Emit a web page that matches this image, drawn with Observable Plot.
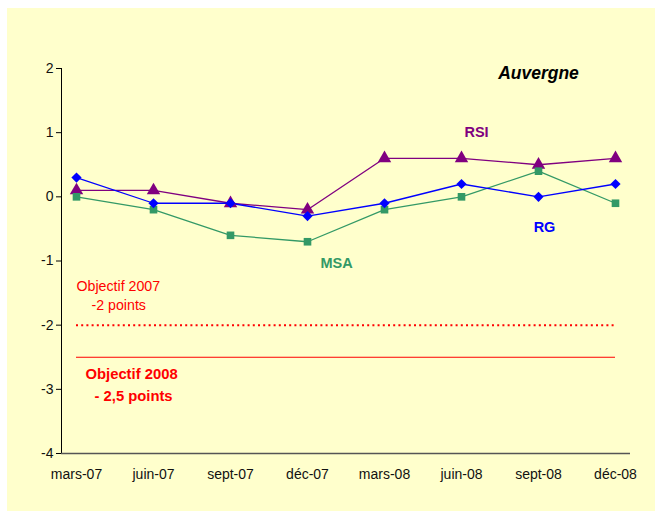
<!DOCTYPE html>
<html>
<head>
<meta charset="utf-8">
<script src="https://cdn.jsdelivr.net/npm/d3@7"></script>
<script src="https://cdn.jsdelivr.net/npm/@observablehq/plot@0.6"></script>
<style>
  html, body { margin: 0; padding: 0; background: #ffffff; }
  #chart { position: absolute; left: 7px; top: 8px; }
  #chart svg { background: #FFFFCC; display: block; }
</style>
</head>
<body>
<div id="chart"></div>
<script>
const periods = ["mars-07", "juin-07", "sept-07", "déc-07", "mars-08", "juin-08", "sept-08", "déc-08"];
const rg  = [0.3, -0.1, -0.1, -0.3, -0.1, 0.2, 0.0, 0.2];
const rsi = [0.1, 0.1, -0.1, -0.2, 0.6, 0.6, 0.5, 0.6];
const msa = [0.0, -0.2, -0.6, -0.7, -0.2, 0.0, 0.4, -0.1];
const yTicks = [2, 1, 0, -1, -2, -3, -4];
const objectif2007 = -2;
const objectif2008 = -2.5;

const colors = {RG: "#0000FF", RSI: "#800080", MSA: "#339966"};
const symbols = {RG: "diamond2", RSI: "triangle", MSA: "square"};
const series = [["RSI", rsi], ["MSA", msa], ["RG", rg]];
const rows = series.flatMap(([name, vals]) => vals.map((v, i) => ({serie: name, periode: periods[i], valeur: v})));

const font = "'Liberation Sans', Arial, sans-serif";
const lines = series.map(([name]) =>
  Plot.line(rows.filter(d => d.serie === name), {x: "periode", y: "valeur", stroke: colors[name], strokeWidth: 1.3})
);
const sizes = {RG: 4.6, RSI: 5, MSA: 4.3};
const dots = series.map(([name]) =>
  Plot.dot(rows.filter(d => d.serie === name), {x: "periode", y: "valeur", fill: colors[name], symbol: symbols[name], r: sizes[name]})
);
const first = () => periods[0];
const last = () => periods[periods.length - 1];

const chart = Plot.plot({
  width: 648,
  height: 503,
  marginLeft: 54,
  marginRight: 25,
  marginTop: 60,
  marginBottom: 58,
  style: {fontFamily: font, fontSize: "14px", color: "#111", background: "#FFFFCC", overflow: "visible"},
  x: {type: "point", domain: periods, padding: 0, insetLeft: 13, insetRight: 13, label: null},
  y: {domain: [-4, 2], ticks: yTicks, label: null},
  marks: [
    Plot.axisY({ticks: yTicks, tickSize: 5, tickPadding: 3, tickFormat: d => String(d), fontSize: 14, stroke: "#000"}),
    Plot.axisX({tickSize: 0, tickPadding: 16, fontSize: 14}),
    Plot.frame({anchor: "left", stroke: "#000"}),
    Plot.ruleY([-4], {stroke: "#555", strokeWidth: 1.5}),
    Plot.ruleY([objectif2007], {x1: first, x2: last, stroke: "#FF0000", strokeWidth: 2, strokeDasharray: "2,3.2"}),
    Plot.ruleY([objectif2008], {x1: first, x2: last, stroke: "#FF0000", strokeWidth: 1}),
    ...lines,
    ...dots,
    Plot.text(["Auvergne"], {x: () => "sept-08", y: () => 1.92, fontSize: 17.5, fontWeight: "bold", fontStyle: "italic", fill: "#000", text: d => d}),
    Plot.text(["RSI"], {x: () => "juin-08", y: () => 1.0, dx: 15, fontSize: 14.5, fontWeight: "bold", fill: colors.RSI, text: d => d}),
    Plot.text(["RG"], {x: () => "sept-08", y: () => -0.47, dx: 6, fontSize: 14.5, fontWeight: "bold", fill: colors.RG, text: d => d}),
    Plot.text(["MSA"], {x: () => "déc-07", y: () => -1.03, dx: 29, fontSize: 14.5, fontWeight: "bold", fill: colors.MSA, text: d => d}),
    Plot.text(["Objectif 2007"], {x: first, y: () => -1.39, textAnchor: "start", dx: 0, fontSize: 14.2, fill: "#FF0000", text: d => d}),
    Plot.text(["-2 points"], {x: first, y: () => -1.70, textAnchor: "start", dx: 15, fontSize: 14.2, fill: "#FF0000", text: d => d}),
    Plot.text(["Objectif 2008"], {x: first, y: () => -2.76, textAnchor: "start", dx: 9, fontSize: 14.8, fontWeight: "bold", fill: "#FF0000", text: d => d}),
    Plot.text(["- 2,5 points"], {x: first, y: () => -3.10, textAnchor: "start", dx: 18, fontSize: 14.8, fontWeight: "bold", fill: "#FF0000", text: d => d})
  ]
});
document.getElementById("chart").appendChild(chart);
</script>
</body>
</html>
